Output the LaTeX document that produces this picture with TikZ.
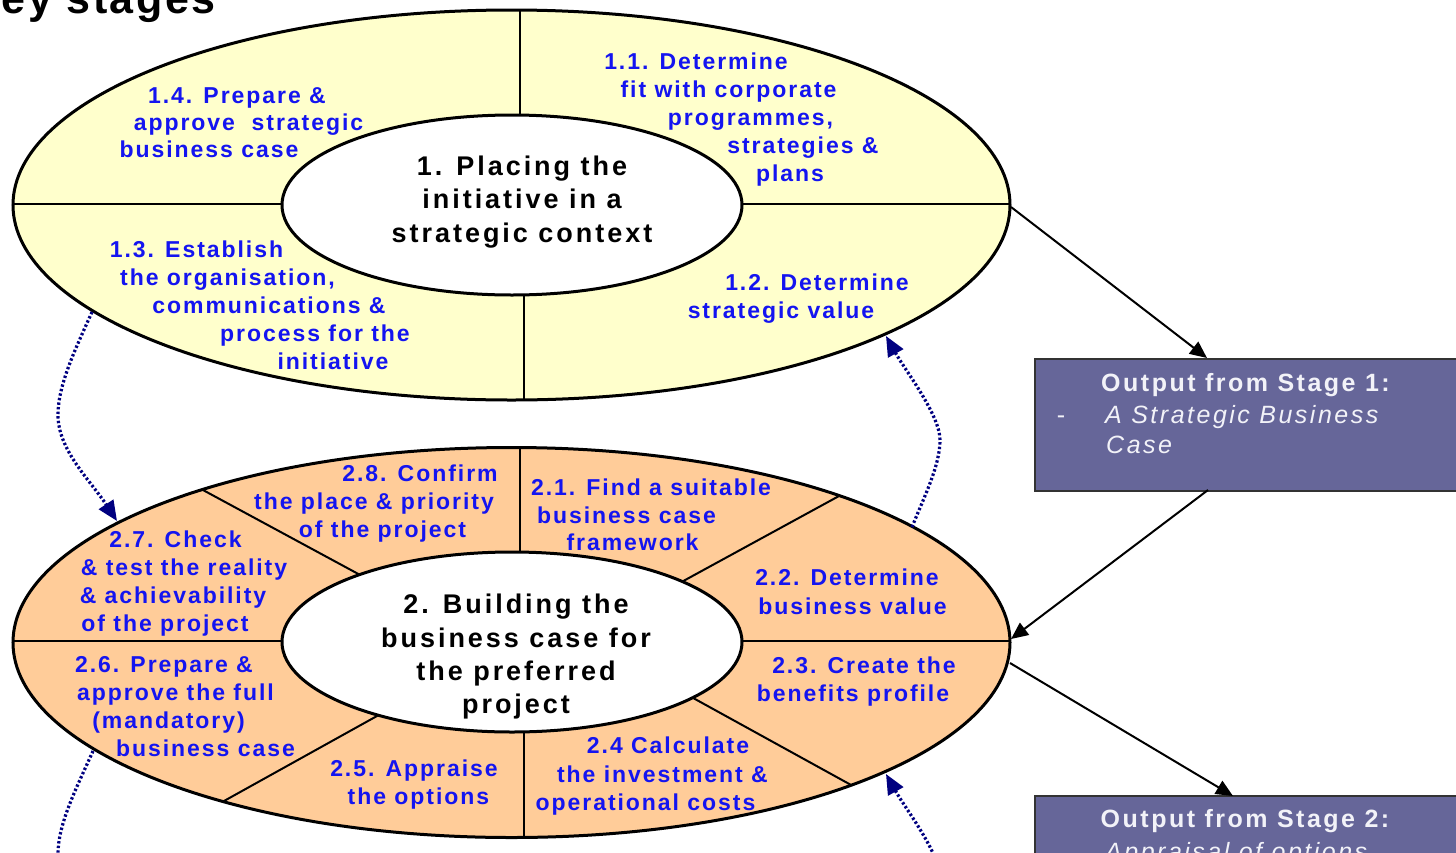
\documentclass[tikz,border=0pt]{standalone}
\usepackage{fontspec}
\setmainfont{Liberation Sans}
\newfontfamily\blfam[LetterSpace=8.5]{Liberation Sans}
\newfontfamily\ctfam[LetterSpace=11]{Liberation Sans}
\newfontfamily\bxfam[LetterSpace=10]{Liberation Sans}
\newfontfamily\tlfam[LetterSpace=6]{Liberation Sans}
\usetikzlibrary{arrows.meta}
\definecolor{lblblue}{RGB}{20,20,240}
\definecolor{yel}{RGB}{255,255,204}
\definecolor{org}{RGB}{255,204,153}
\definecolor{boxc}{RGB}{102,102,153}
\definecolor{navyc}{RGB}{0,0,128}
\definecolor{boxtext}{RGB}{242,242,248}
\tikzset{
  bluetxt/.style={font=\blfam\bfseries\fontsize{23}{28}\selectfont, text=lblblue, anchor=base, inner sep=0pt},
  centertxt/.style={font=\ctfam\bfseries\fontsize{27}{34}\selectfont, text=black, anchor=base, inner sep=0pt},
  boxhead/.style={font=\bxfam\bfseries\fontsize{25}{30}\selectfont, text=boxtext, anchor=base, inner sep=0pt},
  boxital/.style={font=\bxfam\itshape\fontsize{25}{30}\selectfont, text=boxtext, anchor=base west, inner sep=0pt},
  titletxt/.style={font=\tlfam\bfseries\fontsize{43}{50}\selectfont, text=black, anchor=base east, inner sep=0pt},
  ringline/.style={draw=black, line width=3pt},
  divline/.style={draw=black, line width=2pt},
  holefill/.style={draw=black, fill=white, line width=3pt},
  outbox/.style={draw=black!80, fill=boxc, line width=1.5pt, inner sep=0pt, anchor=north west, minimum width=450pt},
  solidarrow/.style={draw=black, line width=2pt, -{Triangle[length=17pt,width=15pt]}},
  dotarrow/.style={draw=navyc, line width=3.2pt, dash pattern=on 2.4pt off 2.2pt, -{Triangle[length=20pt,width=17pt]}},
}
\begin{document}
\begin{tikzpicture}[x=1pt,y=-1pt]
\useasboundingbox (0,0) rectangle (1456,852);
\clip (0,0) rectangle (1456,852);

% title
\node[titletxt] (title) at (216,13) {Key stages};

% ---------- ellipse 1 ----------
\fill[yel] (511.5,205) ellipse [x radius=498.5pt, y radius=195pt];
\begin{scope}
  \clip (511.5,205) ellipse [x radius=498.5pt, y radius=195pt];
  \draw[divline] (0,204) -- (1030,204);
  \draw[divline] (520,0) -- (520,160);
  \draw[divline] (524,250) -- (524,420);
\end{scope}
\draw[holefill] (512,205) ellipse [x radius=230pt, y radius=90pt];
\draw[ringline] (511.5,205) ellipse [x radius=498.5pt, y radius=195pt];

% ---------- ellipse 2 ----------
\fill[org] (511.5,642.5) ellipse [x radius=498.5pt, y radius=195pt];
\begin{scope}
  \clip (511.5,642.5) ellipse [x radius=498.5pt, y radius=195pt];
  \draw[divline] (0,641) -- (1030,641);
  \draw[divline] (520,430) -- (520,600);
  \draw[divline] (524,690) -- (524,860);
  \draw[divline] (190,483) -- (375,583);
  \draw[divline] (215,806) -- (395,706);
  \draw[divline] (850,490) -- (665,591);
  \draw[divline] (675,688) -- (862,791);
\end{scope}
\draw[holefill] (512,642) ellipse [x radius=230pt, y radius=90pt];
\draw[ringline] (511.5,642.5) ellipse [x radius=498.5pt, y radius=195pt];

% ---------- output boxes ----------
\node[outbox, minimum height=132pt] (box1) at (1034,358) {};
\node[outbox, minimum height=120pt] (box2) at (1034,795) {};

% ---------- solid arrows ----------
\coordinate (e1out) at (1011,207);
\coordinate (b1in) at (1207,358);
\coordinate (b1out) at (1208,490);
\coordinate (e2in) at (1011,639);
\coordinate (e2out) at (1010,663);
\coordinate (b2in) at (1233,796);
\draw[solidarrow] (e1out) -- (b1in);
\draw[solidarrow] (b1out) -- (e2in);
\draw[solidarrow] (e2out) -- (b2in);

% ---------- dotted feedback arrows ----------
\coordinate (d1s) at (92,312);
\coordinate (d1e) at (117,521);
\draw[dotarrow] (d1s) .. controls (75,350) and (58,385) .. (58,415) .. controls (58,450) and (90,480) .. (d1e);
\coordinate (d2s) at (912,527);
\coordinate (d2e) at (886,336);
\draw[dotarrow] (d2s) .. controls (925,495) and (940,465) .. (940,440) .. controls (940,415) and (905,370) .. (d2e);
\coordinate (d3s) at (93,751);
\coordinate (d3e) at (117,958);
\draw[dotarrow] (d3s) .. controls (76,789) and (58,824) .. (58,854) .. controls (58,889) and (90,919) .. (d3e);
\coordinate (d4s) at (912,965);
\coordinate (d4e) at (886,774);
\draw[dotarrow] (d4s) .. controls (925,933) and (940,903) .. (940,878) .. controls (940,853) and (905,808) .. (d4e);

% ---------- stage 1 labels ----------
\node[centertxt] (c1a) at (522,175) {1. Placing the};
\node[centertxt] (c1b) at (522,208.5) {initiative in a};
\node[centertxt] (c1c) at (522,242) {strategic context};

\node[bluetxt] (s14a) at (237,103) {1.4. Prepare \&};
\node[bluetxt] (s14b) at (248.5,130) {approve\ \ strategic};
\node[bluetxt] (s14c) at (209,157) {business case};

\node[bluetxt] (s13a) at (196.5,257) {1.3. Establish};
\node[bluetxt] (s13b) at (227.5,285) {the organisation,};
\node[bluetxt] (s13c) at (269,313) {communications \&};
\node[bluetxt] (s13d) at (315,341) {process for the};
\node[bluetxt] (s13e) at (333,369) {initiative};

\node[bluetxt] (s11a) at (696,69) {1.1. Determine};
\node[bluetxt] (s11b) at (728.5,97) {fit with corporate};
\node[bluetxt] (s11c) at (750.5,125) {programmes,};
\node[bluetxt] (s11d) at (803,153) {strategies \&};
\node[bluetxt] (s11e) at (790,181) {plans};

\node[bluetxt] (s12a) at (817,290) {1.2. Determine};
\node[bluetxt] (s12b) at (781,318) {strategic value};

% ---------- stage 2 labels ----------
\node[centertxt] (c2a) at (516,613) {2. Building the};
\node[centertxt] (c2b) at (516,647) {business case for};
\node[centertxt] (c2c) at (516,680) {the preferred};
\node[centertxt] (c2d) at (516,713) {project};

\node[bluetxt] (s28a) at (420,481) {2.8. Confirm};
\node[bluetxt] (s28b) at (374,509) {the place \& priority};
\node[bluetxt] (s28c) at (382.5,537) {of the project};

\node[bluetxt] (s27a) at (175.5,547) {2.7. Check};
\node[bluetxt] (s27b) at (184,575) {\& test the reality};
\node[bluetxt] (s27c) at (173,603) {\& achievability};
\node[bluetxt] (s27d) at (165,631) {of the project};

\node[bluetxt] (s26a) at (164,672) {2.6. Prepare \&};
\node[bluetxt] (s26b) at (175.5,700) {approve the full};
\node[bluetxt] (s26c) at (168.5,728) {(mandatory)};
\node[bluetxt] (s26d) at (205.5,756) {business case};

\node[bluetxt] (s25a) at (414,776) {2.5. Appraise};
\node[bluetxt] (s25b) at (418.5,804) {the options};

\node[bluetxt] (s21a) at (651,495) {2.1. Find a suitable};
\node[bluetxt] (s21b) at (626.5,523) {business case};
\node[bluetxt] (s21c) at (632.5,550) {framework};

\node[bluetxt] (s22a) at (847,585) {2.2. Determine};
\node[bluetxt] (s22b) at (852.5,614) {business value};

\node[bluetxt] (s23a) at (864,673) {2.3. Create the};
\node[bluetxt] (s23b) at (853,701) {benefits profile};

\node[bluetxt] (s24a) at (668,753) {2.4 Calculate};
\node[bluetxt] (s24b) at (662.5,782) {the investment \&};
\node[bluetxt] (s24c) at (645.5,810) {operational costs};

% ---------- box texts ----------
\node[boxhead] (b1h) at (1245.5,391) {Output from Stage 1:};
\node[boxhead, font=\bxfam\fontsize{25}{30}\selectfont] (b1d) at (1061,423) {-};
\node[boxital] (b1i) at (1105,423) {A Strategic Business};
\node[boxital] (b1j) at (1106,453) {Case};
\node[boxhead] (b2h) at (1245,827) {Output from Stage 2:};
\node[boxital] (b2i) at (1105,860) {Appraisal of options};
\end{tikzpicture}
\end{document}
